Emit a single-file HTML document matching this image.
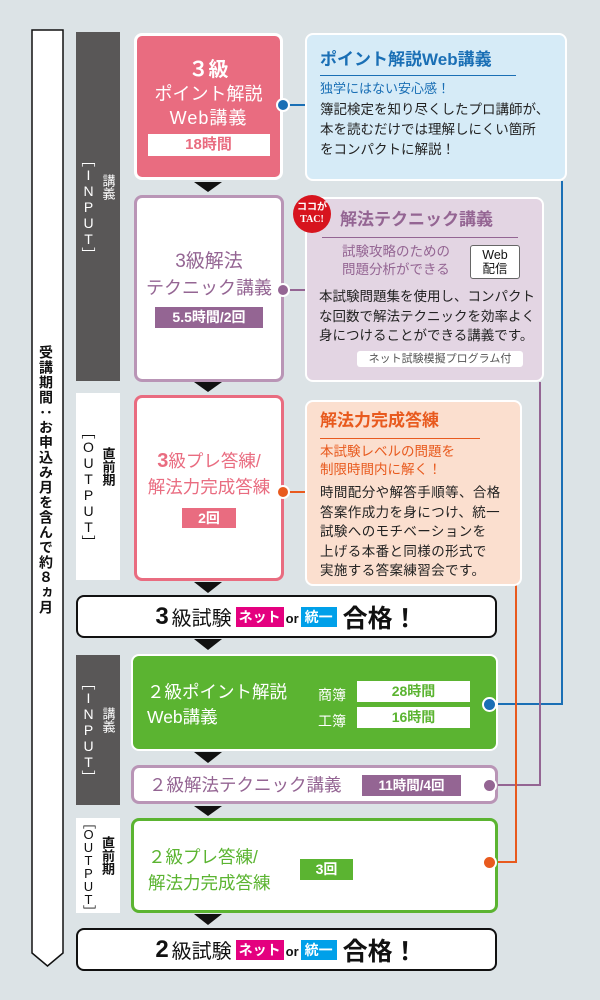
<!DOCTYPE html>
<html><head><meta charset="utf-8"><style>
*{margin:0;padding:0;box-sizing:border-box}
body{width:600px;height:1000px;background:#dce3e6;position:relative;overflow:hidden;font-family:"Liberation Sans","Noto Sans CJK JP",sans-serif}
.a{position:absolute}
.c{display:flex;flex-direction:column;align-items:center;justify-content:center;text-align:center}
.v{writing-mode:vertical-rl;text-orientation:upright}
.tag{display:inline-block;font-weight:bold;line-height:1}
.body{font-size:13.5px;line-height:20px;color:#222}
</style></head><body>
<svg class="a" style="left:0;top:0" width="600" height="1000">
<polygon points="32,30 63,30 63,953 47.5,966 32,953" fill="#fff" stroke="#111" stroke-width="1.5"/>
<polyline points="562,181 562,704 489,704" fill="none" stroke="#1a6fb5" stroke-width="2"/>
<polyline points="540,382 540,785 489,785" fill="none" stroke="#946593" stroke-width="2"/>
<polyline points="516,585 516,862 489,862" fill="none" stroke="#e85a1e" stroke-width="2"/>
<line x1="283" y1="105" x2="306" y2="105" stroke="#1a6fb5" stroke-width="2"/>
<line x1="283" y1="290" x2="306" y2="290" stroke="#946593" stroke-width="2"/>
<line x1="283" y1="492" x2="306" y2="492" stroke="#e85a1e" stroke-width="2"/>
<g fill="#111">
<polygon points="194,182 222,182 208,192"/>
<polygon points="194,382 222,382 208,392"/>
<polygon points="194,582 222,582 208,593"/>
<polygon points="194,639 222,639 208,650"/>
<polygon points="194,752 222,752 208,763"/>
<polygon points="194,806 222,806 208,816"/>
<polygon points="194,914 222,914 208,925"/>
</g>
</svg>
<div class="a v" style="left:36px;top:345px;font-size:14px;font-weight:bold;color:#111;letter-spacing:1px">受講期間：お申込み月を含んで約８ヵ月</div>

<div class="a c" style="left:76px;top:32px;width:44px;height:349px;background:#595757;flex-direction:row;color:#fff;font-size:13px">
<span class="v" style="font-size:14px">［INPUT］</span><span class="v" style="margin-top:-40px">講義</span></div>
<div class="a c" style="left:76px;top:393px;width:44px;height:187px;background:#fff;flex-direction:row;color:#111;font-size:13px">
<span class="v" style="font-size:14px">［OUTPUT］</span><span class="v" style="margin-top:-40px;font-weight:bold">直前期</span></div>
<div class="a c" style="left:76px;top:655px;width:44px;height:150px;background:#595757;flex-direction:row;color:#fff;font-size:13px">
<span class="v" style="font-size:14px">［INPUT］</span><span class="v" style="margin-top:-20px">講義</span></div>
<div class="a c" style="left:76px;top:818px;width:44px;height:95px;background:#fff;flex-direction:row;color:#111;font-size:13px">
<span class="v" style="font-size:13px;letter-spacing:-2px">［OUTPUT］</span><span class="v" style="margin-top:-20px;font-weight:bold">直前期</span></div>

<div class="a c" style="left:134px;top:33px;width:149px;height:147px;background:#e96c80;border:3px solid #fff;border-radius:8px;color:#fff;font-size:18px;line-height:24px">
<div style="font-weight:bold;font-size:20px">３級</div><div>ポイント解説</div><div style="letter-spacing:1px">Web講義</div>
<div style="background:#fff;color:#e96c80;font-weight:bold;font-size:15px;width:122px;height:22px;line-height:22px;margin-top:4px">18時間</div></div>
<div class="a" style="left:276px;top:98px;width:14px;height:14px;border-radius:50%;background:#1a6fb5;border:2px solid #fff"></div>

<div class="a c" style="left:134px;top:195px;width:150px;height:187px;background:#fff;border:3px solid #b995b6;border-radius:8px;color:#946593;font-size:18px;line-height:26px">
<div style="font-size:19px">3級解法</div><div>テクニック講義</div>
<div style="background:#946593;color:#fff;font-weight:bold;font-size:14px;width:108px;height:21px;line-height:21px;margin-top:6px">5.5時間/2回</div></div>
<div class="a" style="left:276px;top:283px;width:14px;height:14px;border-radius:50%;background:#946593;border:2px solid #fff"></div>

<div class="a c" style="left:134px;top:395px;width:150px;height:186px;background:#fff;border:3px solid #e96c80;border-radius:8px;color:#e96c80;font-size:17.5px;line-height:26px">
<div><b style="font-size:20px">3</b>級プレ答練/</div><div>解法力完成答練</div>
<div style="background:#e96c80;color:#fff;font-weight:bold;font-size:14px;width:54px;height:20px;line-height:20px;margin-top:8px">2回</div></div>
<div class="a" style="left:276px;top:485px;width:14px;height:14px;border-radius:50%;background:#e85a1e;border:2px solid #fff"></div>

<div class="a" style="left:305px;top:33px;width:262px;height:148px;background:#d6ebf7;border:2px solid #fff;border-radius:8px;padding:14px 0 0 13px">
<div style="color:#1a6fb5;font-weight:bold;font-size:17px;line-height:22px;width:196px;border-bottom:1.5px solid #1a6fb5;padding-bottom:4px">ポイント解説Web講義</div>
<div style="color:#1a6fb5;font-size:13px;line-height:22px;margin-top:2px">独学にはない安心感！</div>
<div class="body">簿記検定を知り尽くしたプロ講師が、<br>本を読むだけでは理解しにくい箇所<br>をコンパクトに解説！</div></div>

<div class="a" style="left:305px;top:197px;width:239px;height:185px;background:#e3d5e3;border:2px solid #fff;border-radius:8px;padding:10px 0 0 15px">
<div style="color:#946593;font-weight:bold;font-size:17px;line-height:22px;width:196px;border-bottom:1.5px solid #946593;padding:0 0 6px 18px">解法テクニック講義</div>
<div style="color:#946593;font-size:13.5px;line-height:18px;margin-top:5px;padding-left:20px">試験攻略のための<br>問題分析ができる</div>
<div class="a c" style="left:163px;top:46px;width:50px;height:34px;background:#fff;border:1px solid #666;border-radius:3px;font-size:12.5px;line-height:14px;color:#111">Web<br>配信</div>
<div class="body" style="margin-left:-3px;line-height:19.5px;margin-top:8px">本試験問題集を使用し、コンパクト<br>な回数で解法テクニックを効率よく<br>身につけることができる講義です。</div>
<div style="margin:5px 0 0 35px;background:#fff;border-radius:3px;font-size:11px;color:#555;width:166px;text-align:center;line-height:16px">ネット試験模擬プログラム付</div></div>
<div class="a c" style="left:293px;top:195px;width:38px;height:38px;border-radius:50%;background:#d7141e;color:#fff;font-size:10px;line-height:12px;font-weight:bold;font-family:'Liberation Serif','Noto Sans CJK JP',serif">ココが<br>TAC!</div>

<div class="a" style="left:305px;top:400px;width:217px;height:186px;background:#fbdfcf;border:2px solid #fff;border-radius:8px;padding:8px 0 0 13px">
<div style="color:#e85a1e;font-weight:bold;font-size:17px;line-height:22px;width:160px;border-bottom:1.5px solid #e85a1e;padding-bottom:6px">解法力完成答練</div>
<div style="color:#e85a1e;font-size:13.5px;line-height:18px;margin-top:4px">本試験レベルの問題を<br>制限時間内に解く！</div>
<div class="body" style="line-height:19.5px;margin-top:4px;letter-spacing:0.4px">時間配分や解答手順等、合格<br>答案作成力を身につけ、統一<br>試験へのモチベーションを<br>上げる本番と同様の形式で<br>実施する答案練習会です。</div></div>

<div class="a c" style="left:76px;top:595px;width:421px;height:43px;background:#fff;border:2px solid #111;border-radius:8px;flex-direction:row;font-size:20px;color:#111">
<b style="font-size:24px">3</b><span style="margin:0 4px 0 3px">級試験</span><span class="tag" style="background:#e4007f;color:#fff;font-size:14px;padding:3px 3px">ネット</span><span style="font-size:13px;font-weight:bold;margin:4px 2px 0">or</span><span class="tag" style="background:#00a0e9;color:#fff;font-size:14px;padding:3px 4px">統一</span><b style="font-size:25px;margin-left:6px">合格！</b></div>

<div class="a" style="left:131px;top:654px;width:367px;height:97px;background:#5bb431;border:2px solid #fff;border-radius:8px;color:#fff">
<div class="a" style="left:14px;top:24px;font-size:17.5px;line-height:25px">２級ポイント解説<br>Web講義</div>
<div class="a" style="left:185px;top:26px;font-size:14px;line-height:26px">商簿<br>工簿</div>
<div class="a" style="left:224px;top:25px;width:113px;height:21px;background:#fff;color:#5bb431;font-weight:bold;font-size:14px;text-align:center;line-height:21px">28時間</div>
<div class="a" style="left:224px;top:51px;width:113px;height:21px;background:#fff;color:#5bb431;font-weight:bold;font-size:14px;text-align:center;line-height:21px">16時間</div></div>
<div class="a" style="left:482px;top:697px;width:15px;height:15px;border-radius:50%;background:#1a6fb5;border:2px solid #fff"></div>

<div class="a" style="left:131px;top:765px;width:367px;height:39px;background:#fff;border:3px solid #b995b6;border-radius:8px">
<div class="a" style="left:15px;top:5px;font-size:17.5px;color:#946593;line-height:24px">２級解法テクニック講義</div>
<div class="a" style="left:228px;top:7px;width:99px;height:21px;background:#946593;color:#fff;font-weight:bold;font-size:13.5px;text-align:center;line-height:21px">11時間/4回</div></div>
<div class="a" style="left:482px;top:778px;width:15px;height:15px;border-radius:50%;background:#946593;border:2px solid #fff"></div>

<div class="a" style="left:131px;top:818px;width:367px;height:95px;background:#fff;border:3px solid #5bb431;border-radius:8px">
<div class="a" style="left:14px;top:23px;font-size:17.5px;color:#5bb431;line-height:26px">２級プレ答練/<br>解法力完成答練</div>
<div class="a" style="left:166px;top:38px;width:53px;height:21px;background:#5bb431;color:#fff;font-weight:bold;font-size:14px;text-align:center;line-height:21px">3回</div></div>
<div class="a" style="left:482px;top:855px;width:15px;height:15px;border-radius:50%;background:#e85a1e;border:2px solid #fff"></div>

<div class="a c" style="left:76px;top:928px;width:421px;height:43px;background:#fff;border:2px solid #111;border-radius:8px;flex-direction:row;font-size:20px;color:#111">
<b style="font-size:24px">2</b><span style="margin:0 4px 0 3px">級試験</span><span class="tag" style="background:#e4007f;color:#fff;font-size:14px;padding:3px 3px">ネット</span><span style="font-size:13px;font-weight:bold;margin:4px 2px 0">or</span><span class="tag" style="background:#00a0e9;color:#fff;font-size:14px;padding:3px 4px">統一</span><b style="font-size:25px;margin-left:6px">合格！</b></div>
</body></html>
